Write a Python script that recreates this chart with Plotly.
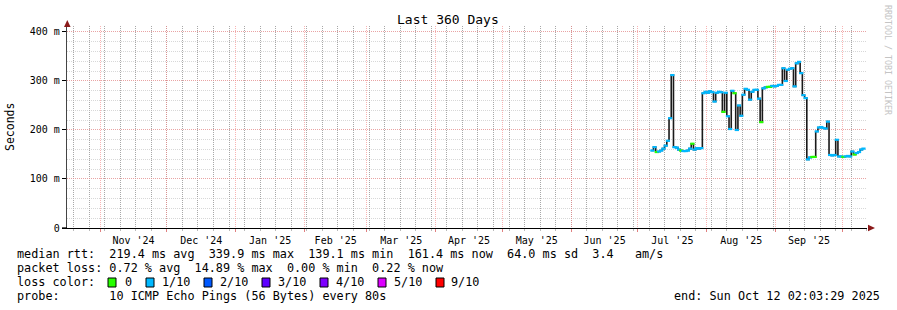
import plotly.graph_objects as go
import pandas as pd

# ---------------- data ----------------
series_start = "2025-07-07"
median_ms = [
    158, 165, 155, 156, 158, 162, 168, 178, 224, 312,   # Jul 7 - Jul 16
    165, 164, 160, 158, 157, 157, 158, 162, 172, 160,   # Jul 17 - Jul 26
    163, 162, 163, 275, 278, 276, 279, 277, 258, 276,   # Jul 27 - Aug 5
    278, 277, 237, 276, 228, 202, 280, 275, 200, 250,   # Aug 6 - Aug 15
    229, 272, 284, 282, 262, 278, 282, 282, 264, 216,   # Aug 16 - Aug 25
    285, 287, 288, 288, 290, 289, 290, 292, 292, 326,   # Aug 26 - Sep 4
    300, 323, 325, 326, 289, 336, 339, 316, 271, 265,   # Sep 5 - Sep 14
    140, 144, 145, 145, 197, 205, 206, 204, 203, 217,   # Sep 15 - Sep 24
    149, 148, 149, 180, 146, 146, 145, 146, 147, 146,   # Sep 25 - Oct 4
    156, 150, 153, 155, 160, 162,                       # Oct 5 - Oct 10
]
loss_class = [
    1, 1, 0, 1, 1, 1, 1, 1, 1, 1,
    1, 1, 1, 0, 1, 1, 1, 1, 0, 1,
    1, 1, 1, 1, 1, 1, 1, 1, 1, 1,
    1, 1, 0, 1, 1, 1, 1, 0, 1, 1,
    1, 1, 1, 1, 1, 1, 1, 1, 1, 0,
    1, 1, 0, 0, 1, 1, 1, 1, 1, 1,
    1, 1, 1, 1, 1, 1, 1, 1, 1, 1,
    1, 1, 0, 0, 1, 1, 1, 1, 1, 1,
    1, 1, 1, 1, 1, 1, 0, 1, 1, 1,
    1, 0, 1, 1, 1, 1,
]
dates = pd.date_range(series_start, periods=len(median_ms), freq="D")

x_start = "2024-10-17 02:03:29"
x_end = "2025-10-12 02:03:29"
week_lines = [d.strftime("%Y-%m-%d") for d in pd.date_range("2024-10-20", "2025-10-12", freq="7D")]
y_ticks = [0, 100, 200, 300, 400]
y_tick_labels = ["0", "100 m", "200 m", "300 m", "400 m"]

loss_labels = ["0", "1/10", "2/10", "3/10", "4/10", "5/10", "9/10"]
loss_colors = ["#26ff00", "#00b8ff", "#0059ff", "#5e00ff", "#7e00ff", "#dd00ff", "#ff0000"]

legend_lines = [
    "median rtt:  219.4 ms avg  339.9 ms max  139.1 ms min  161.4 ms now  64.0 ms sd  3.4   am/s",
    "packet loss: 0.72 % avg  14.89 % max  0.00 % min  0.22 % now",
    "loss color:",
    "probe:       10 ICMP Echo Pings (56 Bytes) every 80s",
]
end_text = "end: Sun Oct 12 02:03:29 2025"
title_text = "Last 360 Days"
watermark = "RRDTOOL / TOBI OETIKER"

# ---------------- layout geometry (pixels) ----------------
W, H = 897, 310
L, R, T, B = 67, 867, 26, 228
PW, PH = R - L, B - T
FONT = "DejaVu Sans Mono"


def px(xp):
    return (xp - L) / PW


def py(yp):
    return (B - yp) / PH


major_grid = "rgba(245,130,130,0.6)"
minor_grid = "rgba(190,190,190,0.6)"
week_grid = "#a8a8a8"

fig = go.Figure()

# black median trace (vertical jumps)
fig.add_trace(go.Scatter(
    x=dates, y=median_ms, mode="lines", line=dict(color="#1a1a1a", width=1.6, shape="hv"),
    hoverinfo="skip", showlegend=False))
# loss-coloured median ticks
fig.add_trace(go.Scatter(
    x=dates + pd.Timedelta(hours=12), y=median_ms, mode="markers",
    marker=dict(symbol="line-ew", size=3,
                line=dict(width=2.2, color=[loss_colors[c] for c in loss_class])),
    hoverinfo="skip", showlegend=False))

fig.update_layout(
    width=W, height=H,
    margin=dict(l=L, r=W - R, t=T, b=H - B, autoexpand=False),
    paper_bgcolor="white", plot_bgcolor="white",
    font=dict(family=FONT, color="black"),
    xaxis=dict(
        type="date", range=[x_start, x_end],
        dtick="M1", tick0="2024-11-01", tickformat="%b '%y", ticklabelmode="period",
        showgrid=True, gridcolor=major_grid, griddash="1px,1px", gridwidth=1,
        minor=dict(tickmode="array", tickvals=week_lines, showgrid=True,
                   gridcolor=week_grid, griddash="1px,1px", gridwidth=1,
                   ticks="outside", ticklen=2, tickcolor="#bbbbbb"),
        ticks="outside", ticklen=3, tickcolor="#e08080",
        showline=True, linecolor="black", linewidth=1.3,
        zeroline=False, tickfont=dict(family=FONT, size=10, color="black"),
    ),
    yaxis=dict(
        range=[0, 412.2], tickmode="array", tickvals=y_ticks, ticktext=y_tick_labels,
        showgrid=True, gridcolor=major_grid, griddash="1px,1px", gridwidth=1,
        minor=dict(dtick=20, tick0=0, showgrid=True, gridcolor=minor_grid, griddash="1px,1px"),
        ticks="outside", ticklen=4, tickcolor="black",
        showline=True, linecolor="#444444", linewidth=1.3,
        zeroline=False, tickfont=dict(family=FONT, size=10, color="black"),
    ),
)

annotations = []
shapes = []

# title
annotations.append(dict(text=title_text, x=px(448), y=py(20), xref="paper", yref="paper",
                        xanchor="center", yanchor="middle", showarrow=False,
                        font=dict(family=FONT, size=13, color="black")))
# y-axis title
annotations.append(dict(text="Seconds", x=px(10), y=py(127), xref="paper", yref="paper",
                        xanchor="center", yanchor="middle", showarrow=False, textangle=-90,
                        font=dict(family=FONT, size=11.5, color="black")))
# watermark
annotations.append(dict(text=watermark, x=px(888), y=py(60), xref="paper", yref="paper",
                        xanchor="center", yanchor="middle", showarrow=False, textangle=90,
                        font=dict(family=FONT, size=8.3, color="#c4c4c4")))

# legend lines
line_y = [254, 268, 282, 296]
for txt, yy in zip(legend_lines, line_y):
    annotations.append(dict(text=txt.replace(" ", "&nbsp;"), x=px(15), y=py(yy),
                            xref="paper", yref="paper", xanchor="left", yanchor="middle",
                            showarrow=False, font=dict(family=FONT, size=11.8, color="black")))
annotations.append(dict(text=end_text.replace(" ", "&nbsp;"), x=px(882), y=py(296),
                        xref="paper", yref="paper", xanchor="right", yanchor="middle",
                        showarrow=False, font=dict(family=FONT, size=11.8, color="black")))

# loss colour boxes
box_left = [108, 146, 204, 262, 320, 378, 436]
label_left = [122.5, 160, 217.5, 275.5, 333.5, 391.5, 449]
for bx, lx, lab, col in zip(box_left, label_left, loss_labels, loss_colors):
    shapes.append(dict(type="rect", xref="paper", yref="paper",
                       x0=px(bx), x1=px(bx + 8), y0=py(287), y1=py(278),
                       fillcolor=col, line=dict(color="black", width=1)))
    annotations.append(dict(text=lab, x=px(lx), y=py(282), xref="paper", yref="paper",
                            xanchor="left", yanchor="middle", showarrow=False,
                            font=dict(family=FONT, size=11.8, color="black")))

# axis arrows
arrow_col = "#8b1a1a"
shapes.append(dict(type="path", xref="paper", yref="paper",
                   path=f"M {px(64)} {py(27)} L {px(67.3)} {py(20)} L {px(70.6)} {py(27)} Z",
                   fillcolor=arrow_col, line=dict(width=0)))
shapes.append(dict(type="path", xref="paper", yref="paper",
                   path=f"M {px(868)} {py(224.7)} L {px(875)} {py(228)} L {px(868)} {py(231.3)} Z",
                   fillcolor=arrow_col, line=dict(width=0)))
# short extension of x axis to the left of y axis
shapes.append(dict(type="line", xref="paper", yref="paper",
                   x0=px(62), x1=px(67), y0=py(228), y1=py(228),
                   line=dict(color="black", width=1.3)))

fig.update_layout(annotations=annotations, shapes=shapes)

fig.write_html("out.html")
